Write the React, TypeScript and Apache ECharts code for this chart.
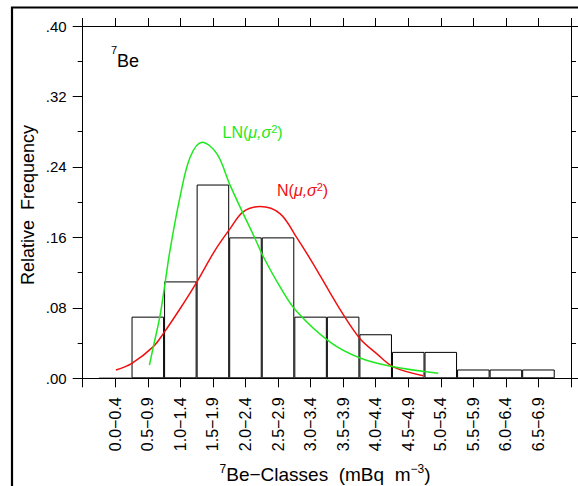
import React, { useEffect, useRef } from 'react';
import * as echarts from 'echarts';

// Class labels (mBq m^-3) – class i is centred on axis position i+1
const classes: string[] = [
  '0.0−0.4', '0.5−0.9', '1.0−1.4', '1.5−1.9', '2.0−2.4', '2.5−2.9', '3.0−3.4',
  '3.5−3.9', '4.0−4.4', '4.5−4.9', '5.0−5.4', '5.5−5.9', '6.0−6.4', '6.5−6.9',
];

// Relative frequency per class
const relFreq: number[] = [0.0, 0.07, 0.11, 0.22, 0.16, 0.16, 0.07, 0.07, 0.05, 0.03, 0.03, 0.01, 0.01, 0.01];

// Fitted curves: [axis position, relative frequency]
const logNormalCurve: [number, number][] = [
  [2.05, 0.015], [2.17, 0.036], [2.37, 0.07], [2.53, 0.108], [2.68, 0.145], [2.99, 0.206],
  [3.3, 0.251], [3.67, 0.268], [4.12, 0.255], [4.53, 0.219], [4.93, 0.187], [5.29, 0.159],
  [5.55, 0.138], [6.06, 0.104], [6.57, 0.076], [7.6, 0.041], [8.52, 0.023], [9.54, 0.013],
  [10.92, 0.0057],
];

const normalCurve: [number, number][] = [
  [1.02, 0.0094], [1.51, 0.017], [2.17, 0.036], [2.48, 0.051], [2.99, 0.079], [3.5, 0.109],
  [4.06, 0.145], [4.53, 0.17], [4.93, 0.189], [5.45, 0.195], [6.06, 0.187], [6.57, 0.16],
  [7.08, 0.13], [7.6, 0.097], [8.01, 0.072], [8.52, 0.045], [9.03, 0.028], [9.54, 0.013],
  [10.46, 0.003],
];

const yTicks = { min: 0, max: 0.4, interval: 0.08 };

export default function App() {
  const ref = useRef<HTMLDivElement>(null);

  useEffect(() => {
    if (!ref.current) return;
    const chart = echarts.init(ref.current, null, { renderer: 'svg' });
    const font = '"Liberation Sans", Arial, Helvetica, sans-serif';
    const black = '#000';
    const green = '#1ee81e';
    const red = '#f01010';

    const xBase = {
      type: 'value' as const,
      min: 0,
      max: classes.length + 1,
      interval: 1,
      axisLine: { show: true, onZero: false, lineStyle: { color: black, width: 1 } },
      splitLine: { show: false },
    };
    const yBase = {
      type: 'value' as const,
      min: yTicks.min,
      max: yTicks.max,
      interval: yTicks.interval,
      axisLine: { show: true, onZero: false, lineStyle: { color: black, width: 1 } },
      axisTick: { show: true, inside: false, length: 10, lineStyle: { color: black } },
      minorTick: { show: true, splitNumber: 2, length: 5, lineStyle: { color: black } },
      splitLine: { show: false },
      minorSplitLine: { show: false },
    };

    const legendRich = (c: string) => ({
      a: { fontSize: 16, fontFamily: font, lineHeight: 18, color: c },
      b: { fontSize: 16, fontFamily: font, fontStyle: 'italic', lineHeight: 18, color: c },
      s: { fontSize: 11, fontFamily: font, lineHeight: 11, verticalAlign: 'top', color: c },
    });

    chart.setOption({
      animation: false,
      backgroundColor: '#fff',
      textStyle: { fontFamily: font },
      grid: { left: 82.7, right: 7, top: 26, bottom: 107.7, containLabel: false },
      xAxis: [
        {
          ...xBase,
          position: 'bottom',
          axisTick: { show: true, inside: false, length: 9, lineStyle: { color: black } },
          axisLabel: {
            show: true,
            rotate: 90,
            margin: 19,
            fontSize: 16,
            color: black,
            fontFamily: font,
            showMinLabel: true,
            showMaxLabel: true,
            formatter: (v: number) => {
              const i = Math.round(v);
              return i >= 1 && i <= classes.length ? classes[i - 1] : '';
            },
          },
        },
        {
          ...xBase,
          position: 'top',
          axisTick: { show: true, inside: false, length: 8, lineStyle: { color: black } },
          axisLabel: { show: false },
        },
      ],
      yAxis: [
        {
          ...yBase,
          position: 'left',
          axisLabel: {
            show: true,
            margin: 16,
            fontSize: 15,
            color: black,
            fontFamily: font,
            formatter: (v: number) => v.toFixed(2).replace(/^0\./, '.'),
          },
        },
        {
          ...yBase,
          position: 'right',
          axisLabel: { show: false },
        },
      ],
      series: [
        {
          type: 'bar',
          xAxisIndex: 0,
          yAxisIndex: 0,
          data: relFreq.map((v, i) => [i + 1, v]),
          barWidth: 32.55,
          itemStyle: { color: '#fff', borderColor: black, borderWidth: 1 },
          silent: true,
          z: 2,
        },
        {
          type: 'line',
          xAxisIndex: 0,
          yAxisIndex: 0,
          data: normalCurve,
          smooth: 0.35,
          symbol: 'none',
          lineStyle: { color: red, width: 1.5 },
          silent: true,
          z: 3,
        },
        {
          type: 'line',
          xAxisIndex: 0,
          yAxisIndex: 0,
          data: logNormalCurve,
          smooth: 0.35,
          symbol: 'none',
          lineStyle: { color: green, width: 1.5 },
          silent: true,
          z: 4,
        },
      ],
      graphic: [
        {
          type: 'rect',
          silent: true,
          shape: { x: 12, y: 7.5, width: 900, height: 900 },
          style: { fill: 'none', stroke: black, lineWidth: 2.2 },
        },
        {
          type: 'text',
          x: 111,
          y: 44.5,
          style: { text: '7', fill: black, font: `11px ${font}`, textVerticalAlign: 'top' },
        },
        {
          type: 'text',
          x: 117,
          y: 52,
          style: { text: 'Be', fill: black, font: `18px ${font}`, textVerticalAlign: 'top' },
        },
        {
          type: 'text',
          x: 222.5,
          y: 123.5,
          style: {
            text: '{a|LN(}{b|μ,σ}{s|2}{a|)}',
            fill: green,
            textVerticalAlign: 'top',
            rich: legendRich(green),
          },
        },
        {
          type: 'text',
          x: 277,
          y: 181,
          style: {
            text: '{a|N(}{b|μ,σ}{s|2}{a|)}',
            fill: red,
            textVerticalAlign: 'top',
            rich: legendRich(red),
          },
        },
        {
          type: 'text',
          x: 28,
          y: 205,
          rotation: Math.PI / 2,
          style: {
            text: 'Relative\u00a0\u00a0Frequency',
            fill: black,
            font: `18px ${font}`,
            textAlign: 'center',
            textVerticalAlign: 'middle',
          },
        },
        {
          type: 'text',
          x: 325,
          y: 474,
          style: {
            text: '{s|7}{n|Be−Classes\u00a0\u00a0(mBq\u00a0\u00a0m}{s|−3}{n|)}',
            fill: black,
            textAlign: 'center',
            textVerticalAlign: 'middle',
            rich: {
              n: { fontSize: 19, fontFamily: font, lineHeight: 22, color: black },
              s: { fontSize: 12, fontFamily: font, lineHeight: 12, verticalAlign: 'top', color: black },
            },
          },
        },
      ],
    });

    return () => chart.dispose();
  }, []);

  return (
    <div
      ref={ref}
      style={{ position: 'absolute', left: 0, top: 0, width: 578, height: 486 }}
    />
  );
}
